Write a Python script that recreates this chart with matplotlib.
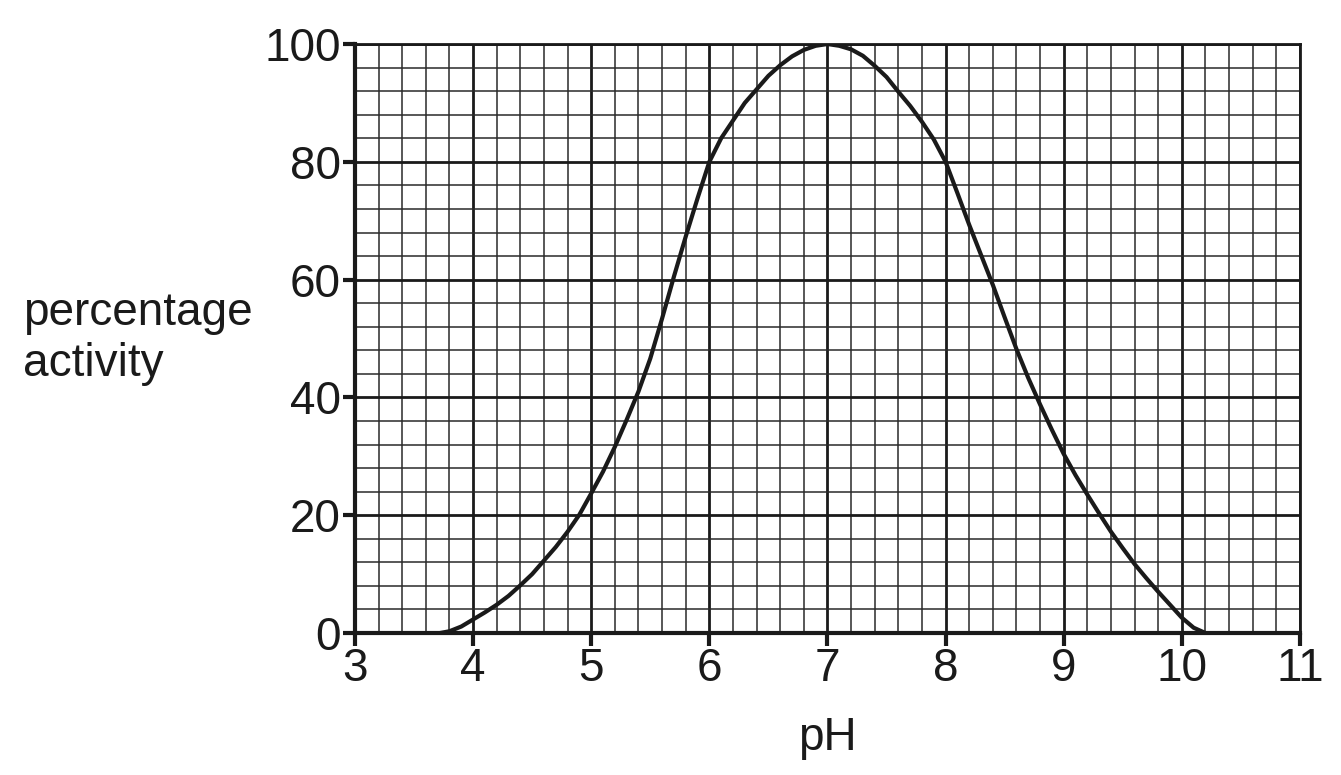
import numpy as np
import matplotlib.pyplot as plt
from matplotlib.ticker import MultipleLocator

plt.rcParams['font.family'] = ['Liberation Sans', 'DejaVu Sans']

# curve, every 0.1 pH
ph = [3.72, 3.8, 3.9, 4.0, 4.1, 4.2, 4.3, 4.4, 4.5, 4.6, 4.7, 4.8, 4.9,
      5.0, 5.1, 5.2, 5.3, 5.4, 5.5, 5.6, 5.7, 5.8, 5.9,
      6.0, 6.1, 6.2, 6.3, 6.4, 6.5, 6.6, 6.7, 6.8, 6.9,
      7.0, 7.1, 7.2, 7.3, 7.4, 7.5, 7.6, 7.7, 7.8, 7.9,
      8.0, 8.1, 8.2, 8.3, 8.4, 8.5, 8.6, 8.7, 8.8, 8.9,
      9.0, 9.1, 9.2, 9.3, 9.4, 9.5, 9.6, 9.7, 9.8, 9.9,
      10.0, 10.1, 10.2]
activity = [0, 0.3, 1.1, 2.3, 3.5, 4.8, 6.3, 8.1, 10.0, 12.3, 14.6, 17.2, 20.1,
            23.7, 27.4, 31.6, 36.2, 41.0, 46.6, 53.4, 60.5, 67.3, 73.8,
            80.0, 84.0, 87.0, 90.0, 92.3, 94.6, 96.4, 97.9, 99.0, 99.7,
            100.0, 99.7, 99.1, 98.0, 96.3, 94.4, 91.9, 89.5, 86.8, 83.8,
            80.0, 74.7, 69.3, 64.2, 59.1, 53.6, 48.2, 43.3, 38.8, 34.5,
            30.4, 26.8, 23.5, 20.3, 17.2, 14.4, 11.7, 9.3, 7.0, 4.8,
            2.6, 0.9, 0]

fig = plt.figure(figsize=(13.41, 7.75), dpi=100)
ax = fig.add_axes([0.2647, 0.1832, 0.7047, 0.76])

ax.set_xlim(3, 11)
ax.set_ylim(0, 100)
ax.xaxis.set_major_locator(MultipleLocator(1))
ax.xaxis.set_minor_locator(MultipleLocator(0.2))
ax.yaxis.set_major_locator(MultipleLocator(20))
ax.yaxis.set_minor_locator(MultipleLocator(4))

ax.grid(which='minor', color='#2a2a2a', linewidth=1.1, zorder=1)
ax.grid(which='major', color='#1a1a1a', linewidth=2.0, zorder=1)
ax.set_axisbelow(True)

ax.plot(ph, activity, color='#1a1a1a', linewidth=3.0, solid_joinstyle='round',
        solid_capstyle='round', zorder=3)

for s in ['left', 'bottom']:
    ax.spines[s].set_linewidth(3.0)
    ax.spines[s].set_color('#1a1a1a')
for s in ['top', 'right']:
    ax.spines[s].set_linewidth(2.0)
    ax.spines[s].set_color('#1a1a1a')

ax.tick_params(which='major', direction='out', length=9, width=3.0, color='#1a1a1a',
               labelsize=33, labelcolor='#1a1a1a', pad=1)
ax.tick_params(which='minor', length=0)

ax.set_xlabel('pH', fontsize=33, color='#1a1a1a', labelpad=18)
fig.text(0.017, 0.563, 'percentage\nactivity', fontsize=33, color='#1a1a1a',
         ha='left', va='center', linespacing=1.2)

fig.savefig('out.png', dpi=100)
